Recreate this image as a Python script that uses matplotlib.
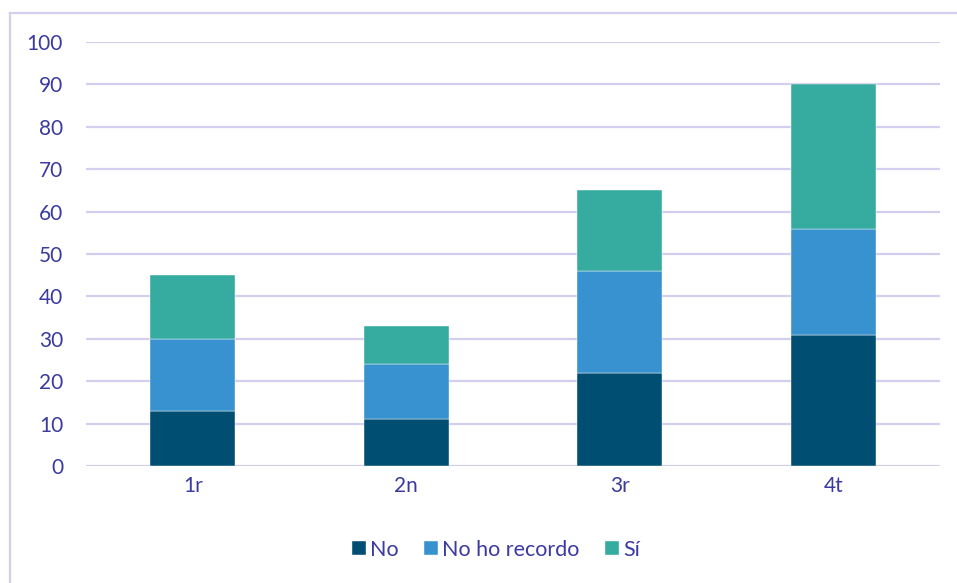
import matplotlib
matplotlib.use("Agg")
import matplotlib.pyplot as plt
from matplotlib.lines import Line2D

categories = ["1r", "2n", "3r", "4t"]
no_vals = [13, 11, 22, 31]
no_recordo_vals = [17, 13, 24, 25]
si_vals = [15, 9, 19, 34]
series_names = ["No", "No ho recordo", "Sí"]
colors = ["#004F72", "#3892CF", "#36ABA0"]
text_color = "#3A3AA0"
grid_color = "#D3CFEF"

plt.rcParams['font.family'] = ['Lato', 'DejaVu Sans']

fig = plt.figure(figsize=(9.57, 5.83), dpi=100)
ax = fig.add_axes([86/957, 1-466/583, (940-86)/957, (466-42)/583])

x = list(range(len(categories)))
bottom = [0]*len(categories)
for vals, name, c in zip([no_vals, no_recordo_vals, si_vals], series_names, colors):
    ax.bar(x, vals, bottom=bottom, width=0.4, color=c, label=name, zorder=3,
           edgecolor="white", linewidth=0.3)
    bottom = [b+v for b, v in zip(bottom, vals)]

ax.set_xlim(-0.5, 3.5)
ax.set_ylim(0, 100)
ax.set_yticks(range(0, 101, 10))
ax.set_xticks(x)
ax.set_xticklabels(categories)
ax.yaxis.grid(True, color=grid_color, linewidth=1.6, zorder=0)
ax.set_axisbelow(True)
for s in ax.spines.values():
    s.set_visible(False)
ax.tick_params(axis='both', length=0, labelsize=15, colors=text_color)
ax.tick_params(axis='y', pad=16.5)
ax.tick_params(axis='x', pad=7)

handles, labels = ax.get_legend_handles_labels()
leg = fig.legend(handles, labels, loc='center', bbox_to_anchor=(496/957, 1-550/583),
                 ncol=3, frameon=False, fontsize=15.5, handlelength=0.62, handleheight=0.62,
                 handletextpad=0.2, columnspacing=1.2)
for t in leg.get_texts():
    t.set_color(text_color)

# outer frame (top and left visible)
fig.add_artist(Line2D([10/957, 1.0], [1-13/583, 1-13/583], color=grid_color, linewidth=1.6, transform=fig.transFigure))
fig.add_artist(Line2D([10/957, 10/957], [0, 1-13/583], color=grid_color, linewidth=1.6, transform=fig.transFigure))

fig.savefig("out.png", dpi=100)
